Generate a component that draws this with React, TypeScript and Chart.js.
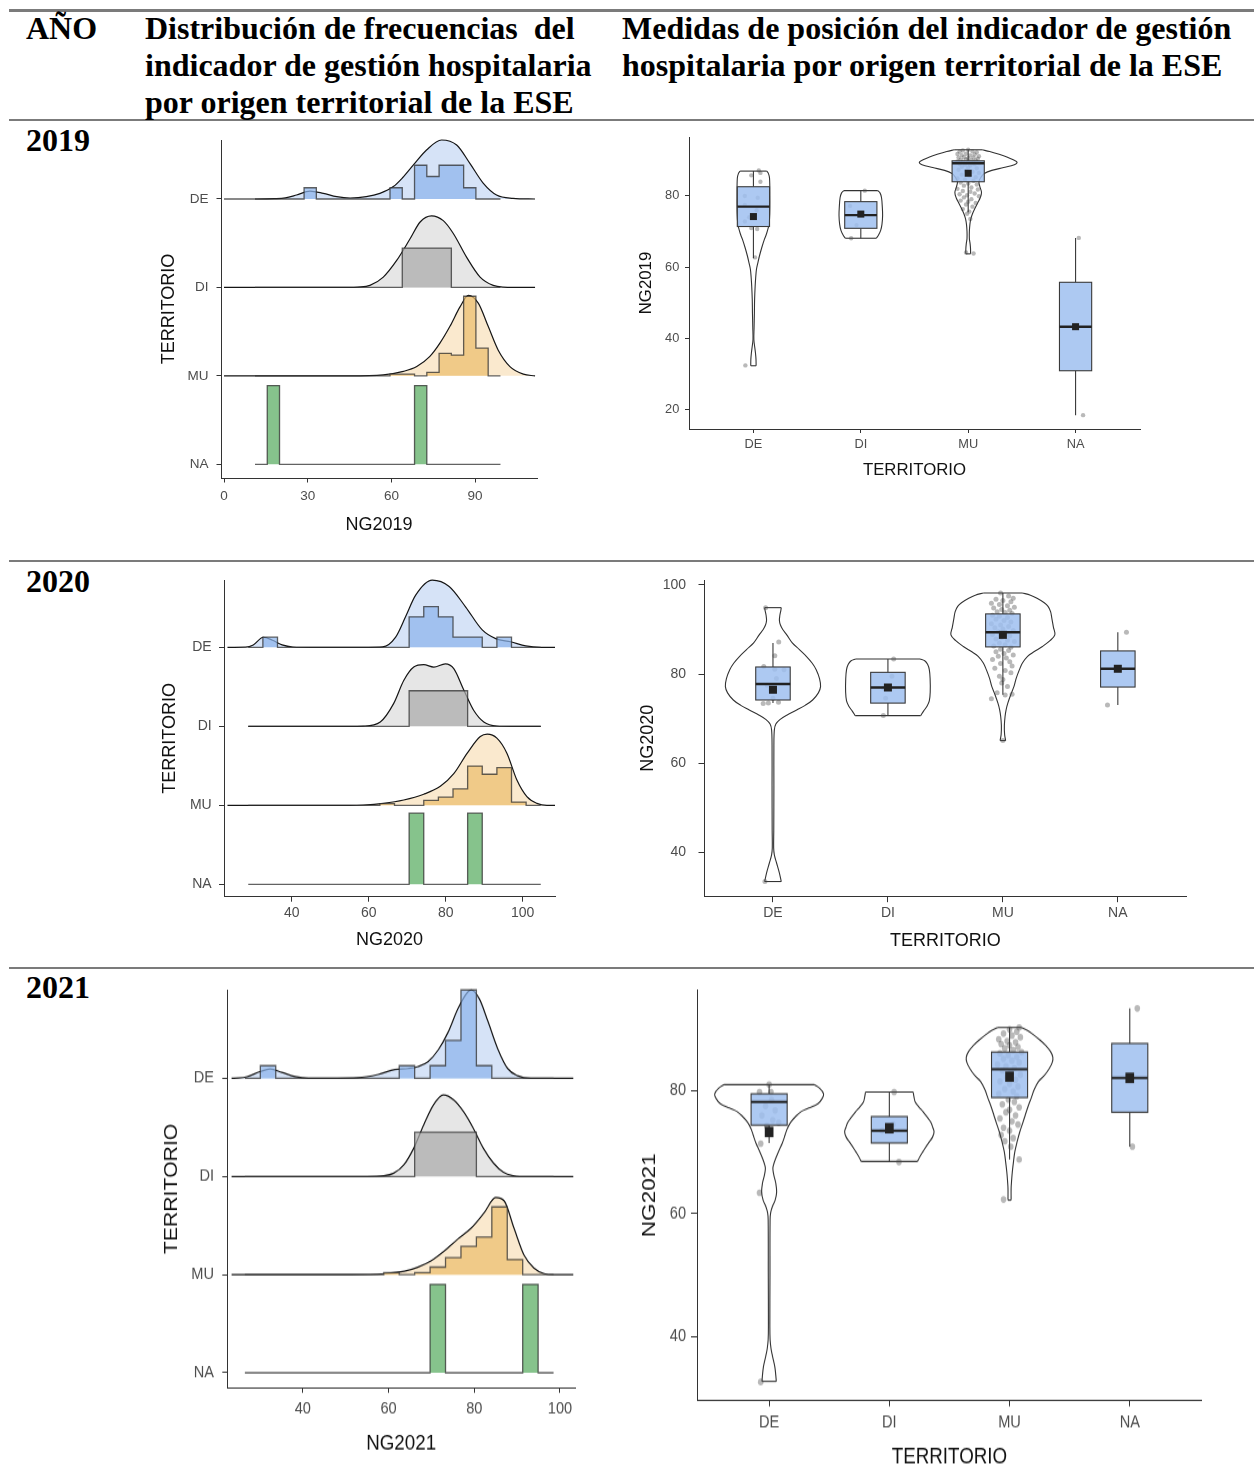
import React, { useEffect, useRef } from 'react';
import { Chart, registerables } from 'chart.js';
Chart.register(...registerables);

// ---------------- DATA ----------------
const TERRITORIOS = ['DE', 'DI', 'MU', 'NA'];
const RIDGE_ORDER = ['DE', 'DI', 'MU', 'NA']; // top to bottom

// ---- 2019 ridgeline ----
const BINS_2019 = [11.1, 15.5, 19.9, 24.3, 28.7, 33.1, 37.5, 41.9, 46.3, 50.7, 55.1, 59.5, 63.9, 68.3, 72.7, 77.1, 81.5, 85.9, 90.3, 94.7, 99.1];
const HIST_2019_DE = [0, 0, 0, 0, 1, 0, 0, 0, 0, 0, 0, 1, 0, 3, 2, 3, 3, 1, 0, 0];
const HIST_2019_DI = [0, 0, 0, 0, 0, 0, 0, 0, 0, 0, 0, 0, 1, 1, 1, 1, 0, 0, 0, 0];
const HIST_2019_MU = [0, 0, 0, 0, 0, 0, 0, 0, 0, 0, 0, 1, 1, 0, 2, 13, 12, 46, 16, 0];
const HIST_2019_NA = [0, 1, 0, 0, 0, 0, 0, 0, 0, 0, 0, 0, 0, 1, 0, 0, 0, 0, 0, 0];
const DENS_2019_DE = [[0, 0], [12, 0], [18, 0.003], [22, 0.012], [26, 0.045], [30.8, 0.09], [35.6, 0.064], [40.4, 0.026], [45.2, 0.011], [51, 0.026], [55.9, 0.064], [60.7, 0.14], [64, 0.24], [67.9, 0.385], [72.6, 0.554], [78, 0.667], [83.4, 0.61], [88.2, 0.4], [92.9, 0.18], [97.7, 0.045], [103.6, 0.008], [111.5, 0]];
const DENS_2019_DI = [[0, 0], [45, 0], [48, 0.004], [52.3, 0.023], [57.1, 0.117], [61.9, 0.305], [66.7, 0.55], [70.3, 0.74], [74.4, 0.81], [78.6, 0.755], [82.2, 0.61], [87, 0.34], [91.8, 0.117], [96.5, 0.023], [100, 0.003], [104, 0], [111.5, 0]];
const DENS_2019_MU = [[0, 0], [45, 0], [57.1, 0.011], [64.3, 0.05], [69.1, 0.105], [73.8, 0.22], [77.4, 0.37], [81, 0.56], [84.6, 0.78], [87.6, 0.91], [91.2, 0.82], [94.7, 0.56], [98.3, 0.29], [102.5, 0.105], [107.3, 0.019], [111.5, 0]];

// ---- 2020 ridgeline ----
const BINS_2020 = [28.7, 32.5, 36.3, 40.1, 43.9, 47.7, 51.5, 55.3, 59.1, 62.9, 66.7, 70.5, 74.3, 78.1, 81.9, 85.7, 89.5, 93.3, 97.1, 100.9, 104.7];
const HIST_2020_DE = [0, 1, 0, 0, 0, 0, 0, 0, 0, 0, 0, 3, 4, 3, 1, 1, 0, 1, 0, 0];
const HIST_2020_DI = [0, 0, 0, 0, 0, 0, 0, 0, 0, 0, 0, 1, 1, 1, 1, 0, 0, 0, 0, 0];
const HIST_2020_MU = [0, 0, 0, 0, 0, 0, 0, 0, 0, 1, 0, 0, 3, 5, 10, 24, 19, 23, 2, 0];
const HIST_2020_NA = [0, 0, 0, 0, 0, 0, 0, 0, 0, 0, 0, 1, 0, 0, 0, 1, 0, 0, 0, 0];
const DENS_2020_DE = [[23.3, 0], [28, 0.002], [30, 0.03], [32.6, 0.127], [35, 0.09], [37.5, 0.03], [40.3, 0.004], [45, 0], [60, 0], [63.6, 0.005], [67, 0.13], [69.6, 0.39], [72.2, 0.66], [76.5, 0.85], [80.9, 0.77], [85.2, 0.51], [89.5, 0.22], [93, 0.11], [96.9, 0.07], [100.8, 0.017], [104.7, 0], [108.4, 0]];
const DENS_2020_DI = [[28.7, 0], [55, 0], [58.6, 0.003], [63, 0.055], [66.5, 0.29], [69.1, 0.58], [71.7, 0.75], [74.3, 0.78], [76.9, 0.75], [79.9, 0.79], [82.1, 0.73], [84.7, 0.46], [87.3, 0.2], [89.9, 0.055], [93.3, 0.004], [97, 0], [104.7, 0]];
const DENS_2020_MU = [[23.3, 0], [55, 0], [58.6, 0.004], [63.8, 0.025], [69.1, 0.067], [74.3, 0.14], [78.6, 0.24], [82.1, 0.4], [85.6, 0.66], [89, 0.87], [90.8, 0.9], [93.3, 0.85], [95.9, 0.66], [98.5, 0.32], [101.1, 0.11], [103.7, 0.025], [106.3, 0], [108.4, 0]];

// ---- 2021 ridgeline ----
const BINS_2021 = [26.5, 30.1, 33.7, 37.3, 40.9, 44.5, 48.1, 51.7, 55.3, 58.9, 62.5, 66.1, 69.7, 73.3, 76.9, 80.5, 84.1, 87.7, 91.3, 94.9, 98.5];
const HIST_2021_DE = [0, 1, 0, 0, 0, 0, 0, 0, 0, 0, 1, 0, 1, 3, 7, 1, 0, 0, 0, 0];
const HIST_2021_DI = [0, 0, 0, 0, 0, 0, 0, 0, 0, 0, 0, 1, 1, 1, 1, 0, 0, 0, 0, 0];
const HIST_2021_MU = [0, 0, 0, 0, 0, 0, 0, 0, 0, 1, 0, 1, 4, 9, 15, 20, 36, 8, 0, 0];
const HIST_2021_NA = [0, 0, 0, 0, 0, 0, 0, 0, 0, 0, 0, 0, 1, 0, 0, 0, 0, 0, 1, 0];
const DENS_2021_DE = [[23.4, 0], [25, 0.003], [27, 0.017], [30, 0.068], [32.4, 0.095], [35.1, 0.061], [38.2, 0.017], [41.3, 0], [52.9, 0.007], [57.6, 0.04], [61.5, 0.09], [64.6, 0.1], [66.9, 0.12], [69.2, 0.17], [71.6, 0.29], [73.9, 0.47], [76.2, 0.71], [78.5, 0.88], [79.3, 0.9], [81.2, 0.81], [83.2, 0.58], [85.5, 0.3], [87.8, 0.1], [90.1, 0.027], [93.2, 0], [103.1, 0]];
const DENS_2021_DI = [[23.4, 0], [55, 0], [58.9, 0.007], [61.2, 0.034], [63.6, 0.12], [65.9, 0.29], [68.2, 0.525], [70.5, 0.73], [72.8, 0.83], [75.2, 0.78], [77.5, 0.66], [79.8, 0.49], [82.1, 0.29], [84.5, 0.136], [86.8, 0.044], [89.1, 0.007], [90.6, 0], [103.1, 0]];
const DENS_2021_MU = [[23.4, 0], [51.4, 0], [59.1, 0.01], [63.7, 0.034], [66.8, 0.075], [69.9, 0.14], [73, 0.24], [76.1, 0.36], [79.2, 0.47], [82.3, 0.63], [85, 0.786], [87, 0.75], [89.3, 0.47], [91.6, 0.2], [93.9, 0.068], [96.3, 0.01], [98.6, 0], [103.1, 0]];

// ---- violins: [value, half-width] from top to bottom ----
const VIO_2019_DE = [[87.0, 0.124], [86.3, 0.14], [85, 0.15], [80, 0.153], [75, 0.152], [72, 0.145], [70.6, 0.134], [69, 0.118], [67.8, 0.102], [65.5, 0.078], [63.1, 0.056], [61, 0.04], [59.3, 0.028], [57, 0.021], [54.6, 0.016], [51, 0.011], [47, 0.009], [43, 0.006], [39.6, 0.004], [37.5, 0.012], [35.8, 0.019], [34, 0.024], [32.2, 0.025]];
const VIO_2019_DI = [[81.5, 0.158], [80.8, 0.18], [79.5, 0.193], [77, 0.2], [74.5, 0.203], [72, 0.197], [70.3, 0.185], [69, 0.165], [68.1, 0.145]];
const VIO_2019_MU = [[93.0, 0.13], [92.5, 0.2], [91.8, 0.28], [91, 0.36], [90.2, 0.42], [89.5, 0.455], [88.8, 0.43], [88, 0.33], [87.2, 0.22], [86.3, 0.15], [85.3, 0.12], [84, 0.1], [82.5, 0.11], [81, 0.124], [79.5, 0.112], [78, 0.088], [76.5, 0.062], [75, 0.04], [73.5, 0.024], [72, 0.016], [70, 0.011], [68, 0.011], [66.5, 0.018], [65, 0.022], [63.7, 0.022]];
const VIO_2020_DE = [[94.9, 0.072], [94.2, 0.068], [93.2, 0.06], [92, 0.056], [91, 0.065], [90, 0.085], [88.8, 0.12], [87, 0.168], [85.5, 0.23], [84, 0.29], [82.5, 0.34], [81, 0.376], [79, 0.405], [77.2, 0.414], [75.8, 0.395], [74.2, 0.345], [73, 0.28], [72, 0.21], [70.8, 0.12], [69.8, 0.06], [68.8, 0.025], [67.5, 0.012], [64, 0.008], [55, 0.008], [45, 0.007], [41, 0.006], [39.5, 0.012], [37.6, 0.032], [35.5, 0.055], [33.5, 0.072]];
const VIO_2020_DI = [[83.4, 0.28], [83, 0.32], [82.2, 0.345], [81, 0.36], [79, 0.367], [76, 0.368], [74, 0.36], [72.8, 0.34], [71.7, 0.31], [70.7, 0.285]];
const VIO_2020_MU = [[98.2, 0.168], [97.7, 0.24], [97, 0.297], [96, 0.36], [95.2, 0.393], [94, 0.415], [92.5, 0.426], [90.5, 0.44], [88.8, 0.452], [87.5, 0.41], [86.2, 0.344], [85, 0.27], [84, 0.215], [82.5, 0.17], [81, 0.144], [79, 0.115], [77.2, 0.096], [75.5, 0.07], [73.5, 0.043], [72, 0.028], [70.5, 0.019], [68.5, 0.013], [66.5, 0.015], [65.1, 0.024]];
const VIO_2021_DE = [[81, 0.375], [80.4, 0.42], [79.5, 0.453], [78.7, 0.44], [77.9, 0.406], [77.2, 0.33], [76.6, 0.266], [75.8, 0.22], [74.9, 0.18], [73.8, 0.15], [72.8, 0.133], [71.5, 0.11], [70.2, 0.08], [69, 0.055], [67.9, 0.036], [67.3, 0.031], [66.2, 0.04], [65, 0.055], [63.5, 0.0625], [62.2, 0.05], [61.2, 0.028], [60.2, 0.013], [59, 0.008], [50, 0.007], [42, 0.006], [39.5, 0.008], [38, 0.016], [36.8, 0.028], [35, 0.048], [32.7, 0.06]];
const VIO_2021_DI = [[79.8, 0.198], [79, 0.205], [78.2, 0.215], [77.4, 0.245], [76.6, 0.28], [75.7, 0.315], [74.9, 0.344], [74, 0.362], [73.3, 0.372], [72.5, 0.36], [71.7, 0.334], [70.9, 0.305], [70.1, 0.28], [69.3, 0.255], [68.5, 0.234]];
const VIO_2021_MU = [[90.3, 0.097], [89.8, 0.15], [89.1, 0.2], [88.3, 0.25], [87.4, 0.3], [86.4, 0.34], [85.5, 0.36], [84.6, 0.355], [83.6, 0.33], [82.5, 0.29], [81.5, 0.24], [80.2, 0.205], [78.8, 0.18], [77.5, 0.155], [76, 0.13], [74.6, 0.107], [73.3, 0.085], [71.7, 0.063], [70.1, 0.044], [68.5, 0.033], [66.8, 0.023], [65.4, 0.017], [64.1, 0.013], [62.2, 0.013]];

// ---- box stats: [lower whisker, Q1, median, Q3, upper whisker, mean] ----
const BOX_2019 = [[62.5, 71.4, 77.0, 82.6, 87.0, 74.2], [68.1, 70.9, 74.6, 78.4, 81.5, 74.9], [75.5, 84.0, 89.2, 89.9, 93.0, 86.4], [18.3, 30.8, 43.2, 55.7, 68.2, 43.2]];
const BOX_2020 = [[73.5, 74.2, 77.8, 81.6, 87.0, 76.5], [70.7, 73.5, 77.0, 80.4, 83.4, 77.0], [75.4, 86.1, 89.4, 93.5, 98.2, 88.8], [73.1, 77.1, 81.2, 85.2, 89.4, 81.2]];
const BOX_2021 = [[71.5, 74.4, 78.2, 79.5, 81.0, 73.3], [68.5, 71.5, 73.5, 75.8, 79.8, 73.9], [68.8, 78.9, 83.5, 86.3, 90.3, 82.3], [70.9, 76.5, 82.1, 87.7, 93.4, 82.1]];

// ---- jittered points: [offset, value] ----
const PTS_2019_DE = [[0.05, 87.2], [0.065, 86.5], [-0.02, 85.8], [0.065, 84], [-0.08, 80], [0.04, 79.5], [-0.08, 77.5], [0.03, 76], [-0.04, 74], [-0.08, 72.8], [-0.02, 71], [0.035, 70.7], [0.015, 62.7], [-0.075, 32.3]];
const PTS_2019_DI = [[0.037, 81.5], [-0.1, 77.2], [-0.04, 71.8], [-0.09, 68.1]];
const PTS_2019_MU = [[-0.08, 92.5], [-0.05, 92.8], [0.0, 93.0], [0.04, 92.6], [0.08, 92.3], [-0.1, 91.8], [-0.06, 91.5], [-0.02, 91.9], [0.02, 91.4], [0.06, 91.7], [0.1, 91.2], [-0.09, 90.8], [-0.04, 90.9], [0.0, 90.6], [0.05, 90.8], [0.09, 90.5], [-0.07, 90.2], [-0.02, 90.3], [0.03, 90.1], [0.07, 90.0], [-0.1, 89.7], [-0.05, 89.6], [0.0, 89.5], [0.05, 89.4], [0.1, 89.3], [-0.08, 89.0], [-0.03, 88.8], [0.02, 88.6], [0.06, 88.9], [-0.06, 88.2], [0.0, 88.0], [0.08, 87.8], [-0.09, 87.4], [-0.02, 87.1], [0.04, 86.8], [0.1, 86.5], [-0.06, 86.0], [0.01, 85.7], [0.07, 85.3], [-0.1, 84.9], [-0.03, 84.6], [0.05, 84.3], [-0.07, 83.8], [0.0, 83.5], [0.08, 83.2], [-0.04, 82.9], [0.03, 82.4], [-0.1, 82.0], [0.09, 81.8], [-0.05, 81.4], [0.02, 81.2], [0.06, 80.7], [-0.08, 80.5], [-0.01, 80.2], [0.1, 79.9], [-0.04, 79.6], [0.03, 79.1], [-0.07, 78.7], [0.0, 78.4], [0.07, 78.0], [-0.02, 77.6], [0.04, 77.0], [-0.05, 76.3], [0.01, 75.6], [-0.01, 75.0], [0.02, 73.5], [-0.02, 64.1], [0.05, 63.8]];
const PTS_2019_NA = [[0.03, 68.2], [0.07, 18.3]];
const PTS_2020_DE = [[-0.064, 94.9], [0.05, 87.2], [0.016, 84.1], [-0.08, 81.7], [0.016, 81.1], [0.096, 81.0], [0.03, 79.0], [-0.05, 77.5], [-0.02, 76.5], [0.0, 74.6], [0.048, 73.7], [-0.04, 73.5], [-0.085, 73.4], [-0.07, 33.5]];
const PTS_2020_DI = [[0.05, 83.4], [0.035, 79.5], [-0.04, 76.9], [-0.02, 74.6], [-0.04, 70.7]];
const PTS_2020_MU = [[-0.02, 98.2], [0.05, 97.5], [0.09, 97.0], [-0.06, 96.8], [0.0, 96.5], [0.07, 96.2], [-0.1, 95.9], [-0.03, 95.6], [0.04, 95.3], [0.1, 95.0], [-0.08, 94.8], [-0.01, 94.5], [0.06, 94.3], [-0.05, 94.0], [0.02, 93.8], [0.08, 93.6], [-0.09, 93.2], [-0.03, 93.0], [0.04, 92.7], [-0.06, 92.3], [0.01, 92.0], [0.07, 91.7], [-0.1, 91.3], [-0.02, 91.0], [0.05, 90.7], [-0.07, 90.4], [0.0, 90.1], [0.09, 89.8], [-0.04, 89.5], [0.03, 89.2], [-0.09, 88.9], [0.06, 88.6], [-0.01, 88.2], [-0.06, 87.9], [0.04, 87.6], [0.1, 87.3], [-0.03, 87.0], [0.02, 86.6], [-0.08, 86.3], [0.07, 86.0], [-0.02, 85.6], [0.05, 85.3], [-0.06, 85.0], [0.01, 84.6], [0.09, 84.3], [-0.04, 84.0], [0.03, 83.6], [-0.09, 83.3], [0.06, 82.8], [-0.02, 82.4], [0.08, 81.8], [-0.07, 81.3], [0.02, 80.8], [0.07, 80.3], [-0.03, 79.5], [0.0, 78.8], [-0.01, 78.0], [0.04, 77.2], [-0.05, 75.8], [0.02, 75.3], [-0.1, 74.5], [0.08, 75.5], [0.0, 65.1]];
const PTS_2020_NA = [[0.075, 89.4], [-0.09, 73.1]];
const PTS_2021_DE = [[0.0, 81.0], [-0.08, 79.8], [0.015, 79.8], [0.02, 78.5], [-0.03, 77.5], [0.05, 76.8], [-0.06, 76.0], [0.03, 75.2], [0.08, 74.8], [-0.02, 74.3], [0.0, 73.5], [-0.07, 71.4], [-0.08, 63.4], [-0.07, 32.6]];
const PTS_2021_DI = [[0.04, 79.8], [0.08, 68.4], [-0.06, 73.5], [0.03, 74.5]];
const PTS_2021_MU = [[0.08, 90.3], [0.0, 90.0], [0.06, 89.6], [-0.05, 89.3], [0.02, 89.0], [0.09, 88.7], [-0.09, 88.4], [-0.02, 88.1], [0.05, 87.9], [-0.07, 87.6], [0.0, 87.4], [0.07, 87.1], [-0.04, 86.9], [0.03, 86.6], [0.1, 86.3], [-0.08, 86.1], [-0.01, 85.8], [0.06, 85.5], [-0.05, 85.2], [0.02, 84.9], [0.08, 84.6], [-0.1, 84.3], [-0.03, 84.0], [0.04, 83.7], [-0.06, 83.3], [0.01, 83.0], [0.09, 82.6], [-0.02, 82.2], [0.05, 81.8], [-0.08, 81.5], [0.0, 81.1], [0.07, 80.7], [-0.04, 80.3], [0.03, 79.9], [-0.09, 79.5], [0.06, 79.1], [-0.01, 78.6], [0.04, 78.2], [-0.06, 77.8], [0.08, 77.3], [0.0, 76.9], [-0.03, 76.5], [0.05, 76.0], [-0.08, 75.5], [0.02, 75.0], [0.07, 74.5], [-0.05, 74.0], [0.0, 73.5], [-0.07, 72.8], [0.03, 72.3], [-0.04, 71.8], [0.01, 70.9], [0.08, 68.8], [-0.05, 62.3]];
const PTS_2021_NA = [[0.0625, 93.4], [0.022, 70.9]];

// tick labels
const RIDGE_X_TICKS_2019 = [0, 30, 60, 90];
const RIDGE_X_TICKS_2020 = [40, 60, 80, 100];
const RIDGE_X_TICKS_2021 = [40, 60, 80, 100];
const VIO_Y_TICKS_2019 = [20, 40, 60, 80];
const VIO_Y_TICKS_2020 = [40, 60, 80, 100];
const VIO_Y_TICKS_2021 = [40, 60, 80];

// ---------------- STYLE ----------------
const SANS = "'Liberation Sans', Arial, Helvetica, sans-serif";
const SERIF = "'Liberation Serif', 'Times New Roman', serif";
const AX = '#333333';
const TICK_COL = '#4d4d4d';
const TITLE_COL = '#111111';
const RIDGE_STYLE: Record<string, { dens: string; hist: string }> = {
  DE: { dens: 'rgb(214,227,247)', hist: 'rgba(140,180,235,0.72)' },
  DI: { dens: 'rgb(230,230,230)', hist: 'rgba(170,170,170,0.72)' },
  MU: { dens: 'rgb(250,233,206)', hist: 'rgba(236,190,110,0.72)' },
  NA: { dens: 'rgb(230,240,230)', hist: 'rgba(100,178,108,0.78)' },
};

interface Geo {
  x0: number; y0: number; w: number; h: number;
  l: number; t: number; r: number; b: number; s: number;
  yTitleX: number; xTitleY: number; yLabelRight: number; xLabelY: number;
  tickLen: number; tickFont: number; titleFont: number;
}

const GEO_A19: Geo = { x0: 150, y0: 130, w: 400, h: 420, l: 221, t: 140, r: 537, b: 478, s: 1, yTitleX: 169, xTitleY: 525, yLabelRight: 208.5, xLabelY: 496.7, tickLen: 4.5, tickFont: 13.5, titleFont: 18 };
const GEO_V19: Geo = { x0: 630, y0: 130, w: 540, h: 360, l: 689, t: 137, r: 1140, b: 429, s: 1, yTitleX: 646.7, xTitleY: 470, yLabelRight: 679.3, xLabelY: 444.5, tickLen: 4, tickFont: 12.8, titleFont: 16.8 };
const GEO_A20: Geo = { x0: 150, y0: 570, w: 420, h: 390, l: 224, t: 580, r: 555, b: 896.7, s: 1, yTitleX: 170, xTitleY: 940, yLabelRight: 211.7, xLabelY: 913, tickLen: 5, tickFont: 14, titleFont: 18 };
const GEO_V20: Geo = { x0: 630, y0: 570, w: 580, h: 390, l: 704, t: 580, r: 1186.8, b: 896.7, s: 1, yTitleX: 648.5, xTitleY: 940.7, yLabelRight: 686, xLabelY: 913, tickLen: 5.5, tickFont: 14, titleFont: 18 };
const GEO_A21: Geo = { x0: 150, y0: 975, w: 440, h: 500, l: 227.3, t: 990, r: 575, b: 1388.3, s: 1.13, yTitleX: 171.7, xTitleY: 1444.3, yLabelRight: 214, xLabelY: 1409, tickLen: 5, tickFont: 14.6, titleFont: 18.8 };
const GEO_V21: Geo = { x0: 630, y0: 975, w: 600, h: 500, l: 697, t: 990, r: 1201.9, b: 1400, s: 1.2, yTitleX: 649.6, xTitleY: 1456.7, yLabelRight: 686, xLabelY: 1421.7, tickLen: 6, tickFont: 14.6, titleFont: 18.8 };

interface AxisOpts {
  xMin: number; xMax: number; yMin: number; yMax: number;
  xTicks: number[]; yTicks: number[];
  xLabel: (v: number) => string; yLabel: (v: number) => string;
  xTitle: string; yTitle: string;
}

function makeScales(g: Geo, o: AxisOpts) {
  const s = g.s;
  const lh = g.titleFont * 1.2;
  const tickFont = { family: SANS, size: g.tickFont };
  const titleFont = { family: SANS, size: g.titleFont };
  return {
    x: {
      type: 'linear', min: o.xMin, max: o.xMax, offset: false,
      afterBuildTicks: (sc: any) => { sc.ticks = o.xTicks.map((v) => ({ value: v })); },
      afterFit: (sc: any) => {
        sc.height = (g.y0 + g.h - g.b) / s;
        sc.paddingLeft = 0; sc.paddingRight = 0; sc.paddingTop = 0; sc.paddingBottom = 0;
      },
      ticks: {
        autoSkip: false, maxRotation: 0, minRotation: 0, font: tickFont, color: TICK_COL,
        padding: (g.xLabelY - g.b) / s - g.tickLen / s - 0.6 * g.tickFont,
        callback: (v: number) => o.xLabel(v),
      },
      grid: { display: true, drawOnChartArea: false, drawTicks: true, tickLength: g.tickLen / s, color: AX, lineWidth: 1 },
      border: { display: true, color: AX, width: 1 },
      title: { display: true, text: o.xTitle, font: titleFont, color: TITLE_COL, padding: { top: 0, bottom: (g.y0 + g.h - g.xTitleY) / s - lh / 2 } },
    },
    y: {
      type: 'linear', min: o.yMin, max: o.yMax, offset: false,
      afterBuildTicks: (sc: any) => { sc.ticks = o.yTicks.map((v) => ({ value: v })); },
      afterFit: (sc: any) => {
        sc.width = g.l - g.x0;
        sc.paddingLeft = 0; sc.paddingRight = 0; sc.paddingTop = 0; sc.paddingBottom = 0;
      },
      ticks: {
        autoSkip: false, font: tickFont, color: TICK_COL,
        padding: g.l - g.tickLen - g.yLabelRight,
        callback: (v: number) => o.yLabel(v),
      },
      grid: { display: true, drawOnChartArea: false, drawTicks: true, tickLength: g.tickLen, color: AX, lineWidth: 1 },
      border: { display: true, color: AX, width: 1 },
      title: { display: true, text: o.yTitle, font: titleFont, color: TITLE_COL, padding: { top: g.yTitleX - g.x0 - lh / 2, bottom: 0 } },
    },
  };
}

function baseOptions(g: Geo, scales: any) {
  return {
    responsive: false,
    animation: false as const,
    devicePixelRatio: 1,
    events: [] as any[],
    layout: { padding: { left: 0, top: (g.t - g.y0) / g.s, right: g.x0 + g.w - g.r, bottom: 0 } },
    plugins: { legend: { display: false }, tooltip: { enabled: false }, title: { display: false } },
    scales,
  };
}

// ---------- ridgeline ----------
function ridgeConfig(g: Geo, edges: number[], hists: number[][], dens: (number[][] | null)[], xr: [number, number], yr: [number, number], xTicks: number[], xTitle: string) {
  const bw = edges[1] - edges[0];
  const dd = hists.map((c) => { const n = c.reduce((a, b) => a + b, 0); return c.map((v) => v / (n * bw)); });
  const maxD = Math.max(...dd.flat());
  const datasets: any[] = [];
  RIDGE_ORDER.forEach((name, gi) => {
    const base = 4 - gi;
    const st = RIDGE_STYLE[name];
    const d = dens[gi];
    if (d) {
      datasets.push({
        type: 'line', data: d.map(([x, h]) => ({ x, y: base + h })),
        borderColor: '#151515', borderWidth: 1.2, backgroundColor: st.dens,
        fill: { value: base }, cubicInterpolationMode: 'monotone', pointRadius: 0, clip: false, order: 100 - gi * 10,
      });
    }
    const pts: any[] = [{ x: edges[0], y: base }];
    dd[gi].forEach((v, i) => pts.push({ x: edges[i], y: base + (v / maxD) * 0.9 }));
    pts.push({ x: edges[edges.length - 1], y: base });
    datasets.push({
      type: 'line', data: pts, stepped: true,
      borderColor: 'rgba(45,45,45,0.75)', borderWidth: 1.3, backgroundColor: st.hist,
      fill: { value: base }, pointRadius: 0, clip: false, order: 100 - gi * 10 - 1,
    });
  });
  const labels: Record<number, string> = { 1: 'NA', 2: 'MU', 3: 'DI', 4: 'DE' };
  const scales = makeScales(g, {
    xMin: xr[0], xMax: xr[1], yMin: yr[0], yMax: yr[1], xTicks, yTicks: [1, 2, 3, 4],
    xLabel: (v) => String(v), yLabel: (v) => labels[v] || '', xTitle, yTitle: 'TERRITORIO',
  });
  return { type: 'line', data: { datasets }, options: baseOptions(g, scales), plugins: [] as any[] };
}

// ---------- violin + box ----------
function boxPlugin(stats: number[][], g: Geo, sq: number) {
  return {
    id: 'boxes',
    afterDatasetsDraw(chart: any) {
      const { ctx, scales } = chart;
      const x = scales.x, y = scales.y;
      ctx.save();
      stats.forEach((st, i) => {
        const c = i + 1;
        const [lo, q1, med, q3, hi, mean] = st;
        const xl = x.getPixelForValue(c - 0.15), xr = x.getPixelForValue(c + 0.15), xc = x.getPixelForValue(c);
        const yq1 = y.getPixelForValue(q1), yq3 = y.getPixelForValue(q3);
        ctx.strokeStyle = '#3a3a3a';
        ctx.lineWidth = 1.1;
        ctx.beginPath();
        ctx.moveTo(xc, yq3); ctx.lineTo(xc, y.getPixelForValue(hi));
        ctx.moveTo(xc, yq1); ctx.lineTo(xc, y.getPixelForValue(lo));
        ctx.stroke();
        ctx.fillStyle = 'rgba(160,192,240,0.86)';
        ctx.fillRect(xl, yq3, xr - xl, yq1 - yq3);
        ctx.strokeRect(xl, yq3, xr - xl, yq1 - yq3);
        ctx.strokeStyle = '#222';
        ctx.lineWidth = 2.4 / g.s;
        const ym = y.getPixelForValue(med);
        ctx.beginPath(); ctx.moveTo(xl, ym); ctx.lineTo(xr, ym); ctx.stroke();
        ctx.fillStyle = '#222';
        const yme = y.getPixelForValue(mean);
        ctx.fillRect(xc - sq / 2, yme - sq / 2, sq, sq);
      });
      ctx.restore();
    },
  };
}

function violinConfig(g: Geo, vios: (number[][] | null)[], pts: number[][][], stats: number[][], yr: [number, number], yTicks: number[], yTitle: string, rad: number, sq: number) {
  const datasets: any[] = [];
  const line = (data: any[], tension: number) => ({
    type: 'line', data, borderColor: '#333', borderWidth: 1.1, fill: false, tension,
    pointRadius: 0, clip: false, order: 10,
  });
  vios.forEach((vio, i) => {
    if (!vio) return;
    const c = i + 1;
    datasets.push(line(vio.map(([v, hw]) => ({ x: c + hw, y: v })), 0.35));
    datasets.push(line(vio.map(([v, hw]) => ({ x: c - hw, y: v })), 0.35));
    const tp = vio[0], bt = vio[vio.length - 1];
    datasets.push(line([{ x: c - tp[1], y: tp[0] }, { x: c + tp[1], y: tp[0] }], 0));
    datasets.push(line([{ x: c - bt[1], y: bt[0] }, { x: c + bt[1], y: bt[0] }], 0));
  });
  const allPts: any[] = [];
  pts.forEach((p, i) => p.forEach(([dx, v]) => allPts.push({ x: i + 1 + dx, y: v })));
  datasets.push({
    type: 'line', data: allPts, showLine: false, pointRadius: rad, pointBorderWidth: 0,
    pointBackgroundColor: 'rgba(70,70,70,0.38)', pointBorderColor: 'rgba(0,0,0,0)', clip: false, order: 5,
  });
  const scales = makeScales(g, {
    xMin: 0.4, xMax: 4.6, yMin: yr[0], yMax: yr[1], xTicks: [1, 2, 3, 4], yTicks,
    xLabel: (v) => TERRITORIOS[v - 1] || '', yLabel: (v) => String(v), xTitle: 'TERRITORIO', yTitle,
  });
  return { type: 'line', data: { datasets }, options: baseOptions(g, scales), plugins: [boxPlugin(stats, g, sq)] };
}

// ---------------- COMPONENTS ----------------
function Panel({ geo, config }: { geo: Geo; config: () => any }) {
  const ref = useRef<HTMLCanvasElement | null>(null);
  useEffect(() => {
    if (!ref.current) return;
    const chart = new Chart(ref.current, config() as any);
    return () => chart.destroy();
  }, []);
  const ih = Math.round(geo.h / geo.s);
  return (
    <div style={{ position: 'absolute', left: geo.x0, top: geo.y0, width: geo.w, height: ih, transform: `scaleY(${geo.s})`, transformOrigin: '0 0' }}>
      <canvas ref={ref} width={geo.w} height={ih} style={{ display: 'block', width: geo.w, height: ih }} />
    </div>
  );
}

const HEAD: React.CSSProperties = {
  position: 'absolute', fontFamily: SERIF, fontWeight: 700, fontSize: 32, lineHeight: '37px',
  whiteSpace: 'pre', color: '#000', margin: 0,
};

function HLine({ y, h }: { y: number; h: number }) {
  return <div style={{ position: 'absolute', left: 9, top: y, width: 1245, height: h, background: '#7b7b7b' }} />;
}

export default function App() {
  return (
    <div style={{ position: 'absolute', left: 0, top: 0, width: 1254, height: 1483, background: '#fff', overflow: 'hidden' }}>
      <HLine y={9} h={2.6} />
      <HLine y={118.6} h={2.6} />
      <HLine y={560} h={2.2} />
      <HLine y={967} h={2.2} />
      <div style={{ ...HEAD, left: 26, top: 10.2 }}>AÑO</div>
      <div style={{ ...HEAD, left: 145, top: 10.2 }}>{'Distribución de frecuencias  del\nindicador de gestión hospitalaria\npor origen territorial de la ESE'}</div>
      <div style={{ ...HEAD, left: 622, top: 10.2 }}>{'Medidas de posición del indicador de gestión\nhospitalaria por origen territorial de la ESE'}</div>
      <div style={{ ...HEAD, left: 26, top: 121.7 }}>2019</div>
      <div style={{ ...HEAD, left: 26, top: 563.4 }}>2020</div>
      <div style={{ ...HEAD, left: 26, top: 968.7 }}>2021</div>

      <Panel geo={GEO_A19} config={() => ridgeConfig(GEO_A19, BINS_2019, [HIST_2019_DE, HIST_2019_DI, HIST_2019_MU, HIST_2019_NA], [DENS_2019_DE, DENS_2019_DI, DENS_2019_MU, null], [-1.08, 112.2], [0.845, 4.667], RIDGE_X_TICKS_2019, 'NG2019')} />
      <Panel geo={GEO_V19} config={() => violinConfig(GEO_V19, [VIO_2019_DE, VIO_2019_DI, VIO_2019_MU, null], [PTS_2019_DE, PTS_2019_DI, PTS_2019_MU, PTS_2019_NA], BOX_2019, [14.4, 96.6], VIO_Y_TICKS_2019, 'NG2019', 2.2, 7)} />
      <Panel geo={GEO_A20} config={() => ridgeConfig(GEO_A20, BINS_2020, [HIST_2020_DE, HIST_2020_DI, HIST_2020_MU, HIST_2020_NA], [DENS_2020_DE, DENS_2020_DI, DENS_2020_MU, null], [22.4, 108.4], [0.843, 4.852], RIDGE_X_TICKS_2020, 'NG2020')} />
      <Panel geo={GEO_V20} config={() => violinConfig(GEO_V20, [VIO_2020_DE, VIO_2020_DI, VIO_2020_MU, null], [PTS_2020_DE, PTS_2020_DI, PTS_2020_MU, PTS_2020_NA], BOX_2020, [30.1, 101.1], VIO_Y_TICKS_2020, 'NG2020', 2.5, 8)} />
      <Panel geo={GEO_A21} config={() => ridgeConfig(GEO_A21, BINS_2021, [HIST_2021_DE, HIST_2021_DI, HIST_2021_MU, HIST_2021_NA], [DENS_2021_DE, DENS_2021_DI, DENS_2021_MU, null], [22.4, 103.5], [0.847, 4.9], RIDGE_X_TICKS_2021, 'NG2021')} />
      <Panel geo={GEO_V21} config={() => violinConfig(GEO_V21, [VIO_2021_DE, VIO_2021_DI, VIO_2021_MU, null], [PTS_2021_DE, PTS_2021_DI, PTS_2021_MU, PTS_2021_NA], BOX_2021, [29.6, 96.4], VIO_Y_TICKS_2021, 'NG2021', 2.8, 8.7)} />
    </div>
  );
}
